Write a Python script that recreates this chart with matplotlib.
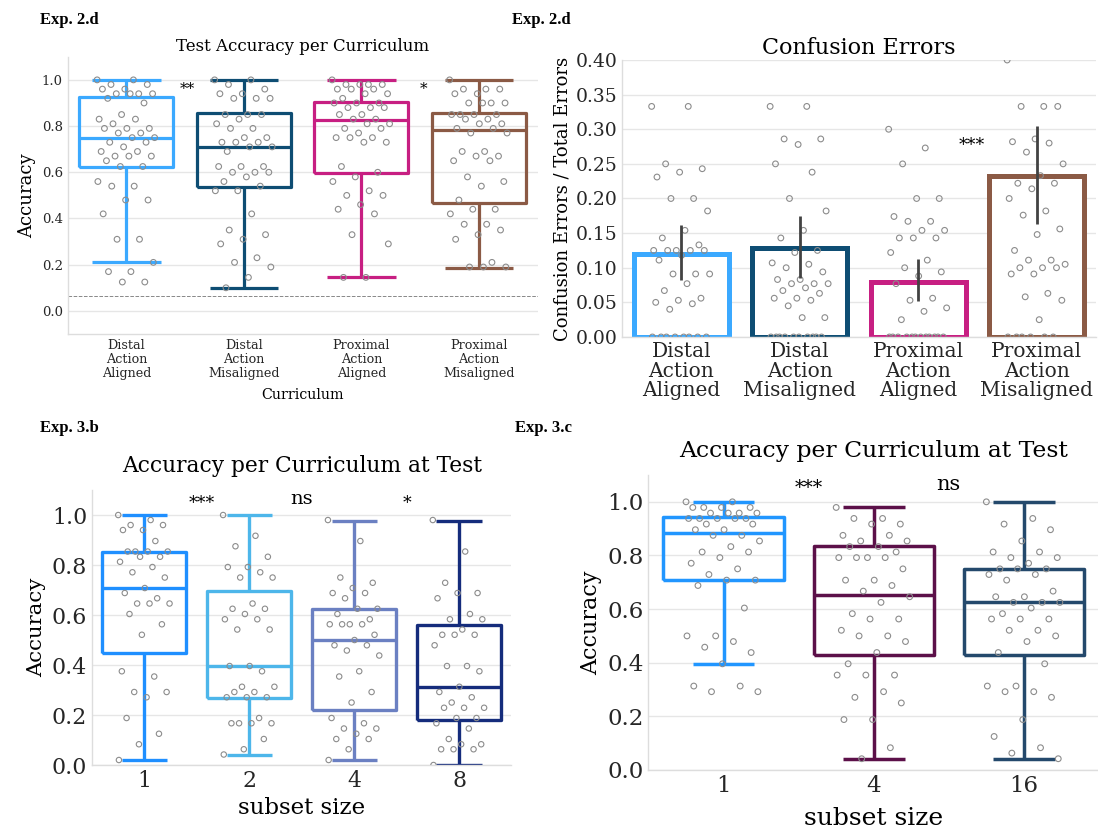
import numpy as np
import matplotlib
matplotlib.use("Agg")
import matplotlib.pyplot as plt

plt.rcParams['font.family'] = ['DejaVu Serif']

# ---------------- data ----------------
# Exp 2.d  accuracy per curriculum
a_labels = ['Distal\nAction\nAligned', 'Distal\nAction\nMisaligned',
            'Proximal\nAction\nAligned', 'Proximal\nAction\nMisaligned']
a_colors = ['#3ba9ff', '#0e4d73', '#c71f82', '#8b5a45']
a_whislo = [0.21, 0.10, 0.145, 0.185]
a_q1 = [0.625, 0.535, 0.595, 0.465]
a_med = [0.75, 0.71, 0.825, 0.785]
a_q3 = [0.925, 0.855, 0.905, 0.855]
a_whishi = [1.0, 1.0, 1.0, 1.0]
a_points = [
    [1.0, 1.0, 0.98, 0.98, 0.96, 0.96, 0.94, 0.94, 0.94, 0.94, 0.92, 0.90, 0.85, 0.83, 0.83,
     0.81, 0.79, 0.79, 0.79, 0.77, 0.77, 0.75, 0.75, 0.73, 0.73, 0.71, 0.69, 0.69, 0.67, 0.67,
     0.67, 0.65, 0.625, 0.625, 0.56, 0.54, 0.54, 0.48, 0.48, 0.42, 0.31, 0.31, 0.21, 0.17,
     0.17, 0.125, 0.125],
    [1.0, 1.0, 0.98, 0.96, 0.94, 0.94, 0.92, 0.92, 0.92, 0.85, 0.85, 0.85, 0.83, 0.81, 0.79,
     0.79, 0.75, 0.75, 0.73, 0.73, 0.73, 0.71, 0.71, 0.69, 0.625, 0.625, 0.625, 0.60, 0.60,
     0.60, 0.58, 0.56, 0.54, 0.52, 0.52, 0.42, 0.35, 0.33, 0.31, 0.29, 0.23, 0.21, 0.19,
     0.145, 0.10],
    [1.0, 0.98, 0.98, 0.98, 0.98, 0.96, 0.96, 0.96, 0.94, 0.94, 0.92, 0.90, 0.90, 0.90, 0.88,
     0.88, 0.88, 0.85, 0.85, 0.83, 0.83, 0.81, 0.81, 0.79, 0.79, 0.77, 0.75, 0.75, 0.75, 0.73,
     0.73, 0.625, 0.60, 0.58, 0.56, 0.52, 0.50, 0.50, 0.46, 0.44, 0.42, 0.33, 0.29, 0.145,
     0.145],
    [1.0, 0.96, 0.96, 0.96, 0.94, 0.94, 0.90, 0.90, 0.90, 0.90, 0.85, 0.85, 0.85, 0.85, 0.83,
     0.83, 0.81, 0.81, 0.79, 0.79, 0.77, 0.77, 0.69, 0.69, 0.67, 0.67, 0.65, 0.65, 0.58, 0.56,
     0.54, 0.48, 0.44, 0.44, 0.42, 0.375, 0.375, 0.35, 0.33, 0.31, 0.21, 0.19, 0.19, 0.19],
]
a_chance = 0.0625
a_sig = ['**', '*']
a_sig_x = [0.52, 2.53]
a_sig_y = [0.96, 0.96]

# Exp 2.d  confusion errors
b_means = [0.12, 0.128, 0.08, 0.232]
b_err_lo = [0.083, 0.085, 0.052, 0.163]
b_err_hi = [0.162, 0.175, 0.112, 0.305]
b_points = [
    [0.333, 0.333, 0.25, 0.243, 0.238, 0.231, 0.2, 0.2, 0.182, 0.154, 0.143, 0.133, 0.125,
     0.125, 0.125, 0.125, 0.125, 0.118, 0.111, 0.091, 0.091, 0.091, 0.077, 0.067, 0.056,
     0.053, 0.05, 0.048, 0.04, 0, 0, 0, 0, 0, 0, 0, 0],
    [0.333, 0.333, 0.286, 0.286, 0.278, 0.25, 0.238, 0.2, 0.182, 0.154, 0.143, 0.125, 0.122,
     0.107, 0.105, 0.1, 0.094, 0.083, 0.083, 0.077, 0.077, 0.077, 0.071, 0.067, 0.063, 0.056,
     0.056, 0.053, 0.045, 0.028, 0.028, 0, 0, 0, 0, 0, 0, 0, 0, 0, 0],
    [0.30, 0.273, 0.25, 0.2, 0.2, 0.174, 0.167, 0.167, 0.154, 0.154, 0.143, 0.143, 0.143,
     0.122, 0.111, 0.1, 0.094, 0.088, 0.077, 0.056, 0.053, 0.042, 0.037, 0.025,
     0, 0, 0, 0, 0, 0, 0, 0, 0, 0, 0, 0],
    [0.40, 0.333, 0.333, 0.333, 0.286, 0.282, 0.28, 0.267, 0.25, 0.233, 0.222, 0.222, 0.214,
     0.2, 0.182, 0.176, 0.156, 0.148, 0.125, 0.111, 0.111, 0.105, 0.1, 0.1, 0.1, 0.091,
     0.091, 0.063, 0.058, 0.053, 0.025, 0, 0, 0, 0, 0, 0],
]
b_sig_x = 2.45
b_sig_y = 0.277

# Exp 3.b
c_labels = ['1', '2', '4', '8']
c_colors = ['#1f8fff', '#4db6ea', '#6b80c2', '#152c7c']
c_whislo = [0.02, 0.04, 0.02, 0.0]
c_q1 = [0.448, 0.269, 0.219, 0.18]
c_med = [0.707, 0.395, 0.499, 0.313]
c_q3 = [0.854, 0.698, 0.625, 0.561]
c_whishi = [1.0, 1.0, 0.976, 0.976]
c_points = [
    [1.0, 0.98, 0.96, 0.96, 0.94, 0.94, 0.896, 0.854, 0.854, 0.854, 0.854, 0.833, 0.833,
     0.813, 0.792, 0.771, 0.75, 0.708, 0.688, 0.667, 0.646, 0.646, 0.646, 0.604, 0.563,
     0.521, 0.375, 0.354, 0.292, 0.292, 0.271, 0.188, 0.125, 0.083, 0.02],
    [1.0, 0.917, 0.875, 0.833, 0.792, 0.792, 0.771, 0.75, 0.75, 0.646, 0.625, 0.625, 0.604,
     0.583, 0.583, 0.542, 0.542, 0.396, 0.396, 0.375, 0.313, 0.313, 0.292, 0.292, 0.271,
     0.271, 0.271, 0.188, 0.167, 0.167, 0.167, 0.167, 0.104, 0.063, 0.042],
    [0.98, 0.896, 0.75, 0.729, 0.708, 0.688, 0.688, 0.667, 0.625, 0.625, 0.604, 0.583, 0.563,
     0.563, 0.563, 0.563, 0.521, 0.5, 0.479, 0.479, 0.458, 0.438, 0.375, 0.354, 0.292, 0.25,
     0.188, 0.167, 0.146, 0.146, 0.125, 0.104, 0.104, 0.063, 0.02],
    [0.98, 0.854, 0.729, 0.688, 0.688, 0.667, 0.604, 0.583, 0.583, 0.542, 0.521, 0.521, 0.521,
     0.479, 0.396, 0.396, 0.375, 0.313, 0.292, 0.271, 0.25, 0.229, 0.229, 0.229, 0.188,
     0.188, 0.167, 0.146, 0.104, 0.083, 0.083, 0.063, 0.063, 0.063, 0.0],
]
c_sig = ['***', 'ns', '*']
c_sig_x = [0.55, 1.5, 2.5]
c_sig_y = [1.045, 1.065, 1.045]

# Exp 3.c
d_labels = ['1', '4', '16']
d_colors = ['#2196ff', '#5c1049', '#24496c']
d_whislo = [0.397, 0.041, 0.041]
d_q1 = [0.709, 0.427, 0.427]
d_med = [0.885, 0.654, 0.626]
d_q3 = [0.943, 0.834, 0.75]
d_whishi = [1.0, 0.979, 1.0]
d_points = [
    [1.0, 1.0, 0.979, 0.979, 0.979, 0.979, 0.958, 0.958, 0.958, 0.958, 0.938, 0.938, 0.938,
     0.938, 0.938, 0.917, 0.917, 0.896, 0.896, 0.875, 0.875, 0.854, 0.833, 0.813, 0.813,
     0.792, 0.771, 0.75, 0.729, 0.708, 0.708, 0.688, 0.604, 0.5, 0.5, 0.479, 0.458, 0.438,
     0.396, 0.313, 0.313, 0.292, 0.292],
    [0.979, 0.938, 0.938, 0.917, 0.917, 0.875, 0.875, 0.854, 0.854, 0.833, 0.833, 0.813,
     0.792, 0.792, 0.792, 0.792, 0.75, 0.708, 0.708, 0.688, 0.667, 0.646, 0.625, 0.583,
     0.563, 0.563, 0.521, 0.5, 0.5, 0.479, 0.438, 0.396, 0.354, 0.354, 0.354, 0.292, 0.271,
     0.25, 0.188, 0.188, 0.083, 0.042],
    [1.0, 0.938, 0.917, 0.896, 0.854, 0.813, 0.813, 0.792, 0.792, 0.771, 0.75, 0.75, 0.75,
     0.729, 0.729, 0.708, 0.667, 0.646, 0.646, 0.625, 0.625, 0.625, 0.604, 0.583, 0.563,
     0.563, 0.563, 0.521, 0.521, 0.5, 0.479, 0.438, 0.396, 0.313, 0.313, 0.292, 0.292,
     0.271, 0.188, 0.125, 0.083, 0.063, 0.042],
]
d_sig = ['***', 'ns']
d_sig_x = [0.57, 1.5]
d_sig_y = [1.05, 1.065]

GRID = '#e6e6e6'
SPINE = '#dddddd'
DOT = '#8c8c8c'


def jitter(n, spread=0.5):
    # evenly spread horizontal offsets (golden-ratio sequence), no randomness
    return ((np.arange(n) * 0.6180339887) % 1.0 - 0.5) * spread


def style_axes(ax):
    ax.set_axisbelow(True)
    ax.yaxis.grid(True, color=GRID, lw=1.0)
    for s in ['top', 'right']:
        ax.spines[s].set_visible(False)
    for s in ['left', 'bottom']:
        ax.spines[s].set_color(SPINE)
        ax.spines[s].set_linewidth(1.0)
    ax.tick_params(length=0, colors='#262626')


def draw_boxes(ax, colors, lo, q1, med, q3, hi, capw, lw):
    for i in range(len(colors)):
        st = [dict(whislo=lo[i], q1=q1[i], med=med[i], q3=q3[i], whishi=hi[i], fliers=[])]
        p = dict(color=colors[i], lw=lw, solid_capstyle='butt')
        ax.bxp(st, positions=[i], widths=0.8, capwidths=capw, showfliers=False,
               boxprops=p, medianprops=p, whiskerprops=p, capprops=p, manage_ticks=False)


def draw_points(ax, groups, size=17):
    for i, vals in enumerate(groups):
        x = i + jitter(len(vals))
        ax.scatter(x, vals, s=size, facecolors='none', edgecolors=DOT, linewidths=0.8, zorder=4)


fig = plt.figure(figsize=(10.98, 8.30), dpi=100)

# ---------- panel A ----------
ax = fig.add_axes([0.0617, 0.5976, 0.428, 0.334])
style_axes(ax)
draw_boxes(ax, a_colors, a_whislo, a_q1, a_med, a_q3, a_whishi, 0.58, 2.3)
draw_points(ax, a_points)
ax.axhline(a_chance, color='#888888', ls='--', lw=0.7)
for t, x, y in zip(a_sig, a_sig_x, a_sig_y):
    ax.text(x, y, t, ha='center', va='center', fontsize=11)
ax.set_xlim(-0.5, 3.5)
ax.set_ylim(-0.1, 1.1)
ax.set_yticks(np.arange(0, 1.01, 0.2))
ax.yaxis.set_major_formatter(matplotlib.ticker.FormatStrFormatter('%.1f'))
ax.set_xticks(range(4))
ax.set_xticklabels(a_labels, fontsize=9.2, linespacing=1.1)
ax.tick_params(axis='y', labelsize=9.5)
ax.set_title('Test Accuracy per Curriculum', fontsize=12, pad=4)
ax.set_xlabel('Curriculum', fontsize=10.3, labelpad=6)
ax.set_ylabel('Accuracy', fontsize=13)

# ---------- panel B ----------
ax = fig.add_axes([0.5665, 0.594, 0.4317, 0.3337])
style_axes(ax)
ax.bar(range(4), b_means, width=0.8, facecolor='white', edgecolor=a_colors, linewidth=3.6,
       zorder=2)
ax.vlines(range(4), b_err_lo, b_err_hi, color='#424242', lw=2.0, zorder=5)
draw_points(ax, b_points)
ax.text(b_sig_x, b_sig_y, '***', ha='center', va='center', fontsize=12.5)
ax.set_xlim(-0.5, 3.5)
ax.set_ylim(0, 0.4)
ax.set_yticks(np.arange(0, 0.401, 0.05))
ax.yaxis.set_major_formatter(matplotlib.ticker.FormatStrFormatter('%.2f'))
ax.set_xticks(range(4))
ax.set_xticklabels(a_labels, fontsize=14.5, linespacing=1.05)
ax.tick_params(axis='y', labelsize=13.5)
ax.set_title('Confusion Errors', fontsize=16, pad=4)
ax.set_ylabel('Confusion Errors / Total Errors', fontsize=13, labelpad=3)

# ---------- panel C ----------
ax = fig.add_axes([0.0838, 0.0783, 0.382, 0.3313])
style_axes(ax)
draw_boxes(ax, c_colors, c_whislo, c_q1, c_med, c_q3, c_whishi, 0.43, 2.4)
draw_points(ax, c_points, size=15)
for t, x, y in zip(c_sig, c_sig_x, c_sig_y):
    ax.text(x, y, t, ha='center', va='center', fontsize=12.5 if t != 'ns' else 14)
ax.set_xlim(-0.5, 3.5)
ax.set_ylim(0, 1.1)
ax.set_yticks(np.arange(0, 1.01, 0.2))
ax.yaxis.set_major_formatter(matplotlib.ticker.FormatStrFormatter('%.1f'))
ax.set_xticks(range(4))
ax.set_xticklabels(c_labels)
ax.tick_params(labelsize=15.8)
ax.set_title('Accuracy per Curriculum at Test', fontsize=15.7, pad=13)
ax.set_xlabel('subset size', fontsize=16.5, labelpad=4)
ax.set_ylabel('Accuracy', fontsize=15.3)

# ---------- panel D ----------
ax = fig.add_axes([0.5906, 0.0723, 0.4103, 0.3554])
style_axes(ax)
draw_boxes(ax, d_colors, d_whislo, d_q1, d_med, d_q3, d_whishi, 0.41, 2.5)
draw_points(ax, d_points, size=17)
for t, x, y in zip(d_sig, d_sig_x, d_sig_y):
    ax.text(x, y, t, ha='center', va='center', fontsize=13.5 if t != 'ns' else 15)
ax.set_xlim(-0.5, 2.5)
ax.set_ylim(0, 1.1)
ax.set_yticks(np.arange(0, 1.01, 0.2))
ax.yaxis.set_major_formatter(matplotlib.ticker.FormatStrFormatter('%.1f'))
ax.set_xticks(range(3))
ax.set_xticklabels(d_labels)
ax.tick_params(labelsize=16.5)
ax.set_title('Accuracy per Curriculum at Test', fontsize=16.9, pad=13)
ax.set_xlabel('subset size', fontsize=18, labelpad=7)
ax.set_ylabel('Accuracy', fontsize=16)

# panel tags
tag = dict(fontsize=12, fontweight='bold', family='Liberation Serif', va='center', ha='left')
fig.text(40 / 1098, 1 - 20 / 830, 'Exp. 2.d', **tag)
fig.text(512 / 1098, 1 - 20 / 830, 'Exp. 2.d', **tag)
fig.text(40 / 1098, 1 - 428 / 830, 'Exp. 3.b', **tag)
fig.text(515 / 1098, 1 - 428 / 830, 'Exp. 3.c', **tag)

fig.savefig('out.png', dpi=100, facecolor='white')
